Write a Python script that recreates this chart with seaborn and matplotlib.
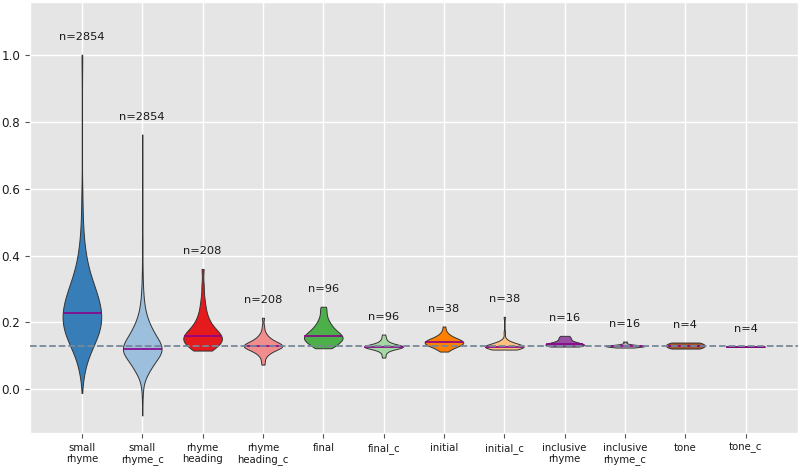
import numpy as np
import pandas as pd
import matplotlib
matplotlib.use("Agg")
import matplotlib.pyplot as plt
import seaborn as sns

# ---------------- data ----------------
categories = ["small rhyme", "small rhyme_c", "rhyme heading", "rhyme heading_c",
              "final", "final_c", "initial", "initial_c",
              "inclusive rhyme", "inclusive rhyme_c", "tone", "tone_c"]
tick_labels = ["small\nrhyme", "small\nrhyme_c", "rhyme\nheading", "rhyme\nheading_c",
               "final", "final_c", "initial", "initial_c",
               "inclusive\nrhyme", "inclusive\nrhyme_c", "tone", "tone_c"]
n_obs = [2854, 2854, 208, 208, 96, 96, 38, 38, 16, 16, 4, 4]
baseline = 0.13

# the two large groups are given as binned values with counts (histogram)
small_rhyme_values = [-0.011, 0.009, 0.029, 0.049, 0.069, 0.089, 0.109, 0.129, 0.149,
                      0.169, 0.189, 0.209, 0.229, 0.249, 0.269, 0.289, 0.309, 0.329,
                      0.349, 0.369, 0.389, 0.409, 0.429, 0.449, 0.469, 0.489, 0.509,
                      0.529, 0.549, 0.569, 0.589, 0.609, 0.629, 0.649, 0.669, 0.689,
                      0.709, 0.729, 0.749, 0.769, 0.789, 0.809, 0.829, 0.849, 0.869,
                      0.889, 0.909, 0.929, 0.949, 0.969, 0.989, 1.0]
small_rhyme_counts = [2, 6, 15, 28, 45, 68, 100, 138, 178, 210, 232, 240, 240, 225, 205,
                      180, 152, 122, 96, 75, 58, 45, 34, 26, 20, 15, 12, 10, 8, 7, 6, 5,
                      2, 2, 2, 2, 2, 2, 2, 2, 2, 2, 2, 2, 2, 2, 2, 3, 3, 4, 4, 7]
small_rhyme_c_values = [-0.078, -0.058, -0.038, -0.018, 0.002, 0.022, 0.042, 0.062,
                        0.082, 0.102, 0.122, 0.142, 0.162, 0.182, 0.202, 0.222, 0.242,
                        0.262, 0.282, 0.302, 0.322, 0.342, 0.362, 0.382, 0.402, 0.422,
                        0.442, 0.462, 0.482, 0.502, 0.522, 0.542, 0.562, 0.582, 0.602,
                        0.622, 0.642, 0.662, 0.682, 0.702, 0.722, 0.742, 0.762]
small_rhyme_c_counts = [2, 4, 6, 9, 17, 35, 95, 190, 266, 406, 462, 390, 285, 209, 140,
                        91, 59, 39, 27, 18, 13, 10, 8, 5, 5, 7, 7, 5,
                        3, 3, 3, 3, 3, 3, 3, 3, 3, 3, 3, 3, 3, 3, 2]

rhyme_heading = [0.116, 0.118, 0.121, 0.124, 0.127, 0.13, 0.133, 0.135, 0.137, 0.139,
                 0.141, 0.143, 0.145, 0.147, 0.149, 0.151, 0.153, 0.155, 0.157, 0.159,
                 0.16, 0.162, 0.164, 0.166, 0.168, 0.171, 0.174, 0.177, 0.18, 0.184,
                 0.188, 0.193, 0.198, 0.204, 0.21, 0.218, 0.228, 0.24, 0.255, 0.275,
                 0.31, 0.36]
rhyme_heading_c = [0.074, 0.085, 0.097, 0.103, 0.107, 0.11, 0.113, 0.115, 0.117, 0.119,
                   0.121, 0.122, 0.123, 0.124, 0.125, 0.126, 0.127, 0.128, 0.129, 0.13,
                   0.13, 0.131, 0.132, 0.133, 0.134, 0.135, 0.136, 0.137, 0.138, 0.14,
                   0.141, 0.143, 0.145, 0.147, 0.149, 0.152, 0.155, 0.159, 0.164, 0.172,
                   0.188, 0.214]
final = [0.123, 0.125, 0.128, 0.131, 0.134, 0.137, 0.14, 0.142, 0.144, 0.146, 0.148,
         0.15, 0.152, 0.154, 0.156, 0.157, 0.158, 0.159, 0.161, 0.163, 0.165, 0.168,
         0.171, 0.174, 0.177, 0.18, 0.184, 0.188, 0.193, 0.198, 0.205, 0.213, 0.225,
         0.24, 0.247]
final_c = [0.095, 0.102, 0.11, 0.114, 0.117, 0.119, 0.121, 0.122, 0.123, 0.124, 0.125,
           0.1255, 0.126, 0.1265, 0.127, 0.1275, 0.128, 0.128, 0.1285, 0.129, 0.1295,
           0.13, 0.131, 0.132, 0.133, 0.134, 0.135, 0.137, 0.139, 0.142, 0.145, 0.15,
           0.157, 0.164]
initial = [0.113, 0.117, 0.12, 0.123, 0.125, 0.127, 0.128, 0.13, 0.131, 0.132, 0.133,
           0.134, 0.135, 0.136, 0.137, 0.138, 0.139, 0.14, 0.14, 0.141, 0.142, 0.143,
           0.144, 0.145, 0.146, 0.147, 0.148, 0.149, 0.15, 0.151, 0.153, 0.155, 0.157,
           0.16, 0.163, 0.167, 0.175, 0.188]
initial_c = [0.119, 0.12, 0.121, 0.122, 0.123, 0.123, 0.124, 0.124, 0.125, 0.125, 0.126,
             0.126, 0.126, 0.127, 0.127, 0.127, 0.128, 0.128, 0.128, 0.128, 0.129, 0.129,
             0.13, 0.13, 0.131, 0.131, 0.132, 0.133, 0.134, 0.135, 0.136, 0.137, 0.139,
             0.141, 0.144, 0.148, 0.17, 0.217]
inclusive_rhyme = [0.128, 0.129, 0.13, 0.131, 0.132, 0.133, 0.134, 0.135, 0.136, 0.137,
                   0.139, 0.142, 0.147, 0.152, 0.156, 0.16]
inclusive_rhyme_c = [0.125, 0.126, 0.127, 0.128, 0.128, 0.129, 0.129, 0.13, 0.13, 0.13,
                     0.131, 0.131, 0.132, 0.133, 0.136, 0.143]
tone = [0.122, 0.128, 0.134, 0.14]
tone_c = [0.127, 0.1275, 0.128, 0.1285]

small_rhyme = np.repeat(small_rhyme_values, small_rhyme_counts)
small_rhyme_c = np.repeat(small_rhyme_c_values, small_rhyme_c_counts)

samples = [small_rhyme, small_rhyme_c, rhyme_heading, rhyme_heading_c, final, final_c,
           initial, initial_c, inclusive_rhyme, inclusive_rhyme_c, tone, tone_c]

# ---------------- style ----------------
dark_colors = ["#377eb8", "#e41a1c", "#4daf4a", "#ff7f00", "#984ea3", "#a65628"]
def lighten(c, f=0.5):
    r, g, b = matplotlib.colors.to_rgb(c)
    return (r + (1 - r) * f, g + (1 - g) * f, b + (1 - b) * f)
colors = []
for c in dark_colors:
    colors += [c, lighten(c)]
bw_factors = [0.204, 0.204, 0.34, 0.34, 0.4, 0.4, 0.48, 0.48, 0.57, 0.57, 0.76, 0.76]

plt.style.use("ggplot")
plt.rcParams["font.family"] = ["DejaVu Sans"]

rows = []
for cat, vals in zip(categories, samples):
    for v in vals:
        rows.append((cat, float(v)))
df = pd.DataFrame(rows, columns=["category", "value"])

fig, ax = plt.subplots(figsize=(8, 4.69), dpi=100)
fig.subplots_adjust(left=0.0375, right=0.997, top=0.996, bottom=0.077)


def extent_at(poly, y):
    xs = []
    for path in poly.get_paths():
        v = path.vertices
        for (x0, y0), (x1, y1) in zip(v[:-1], v[1:]):
            if y0 != y1 and (y0 - y) * (y1 - y) <= 0:
                xs.append(x0 + (y - y0) * (x1 - x0) / (y1 - y0))
    return min(xs), max(xs)


for i, cat in enumerate(categories):
    sub = df[df["category"] == cat]
    before = len(ax.collections)
    sns.violinplot(data=sub, x="category", y="value", order=categories,
                   color=colors[i], saturation=1, cut=0, inner=None,
                   density_norm="width", width=0.64, bw_method=bw_factors[i],
                   linewidth=0.7, linecolor="#333333", ax=ax)
    poly = ax.collections[before]
    med = float(np.median(samples[i]))
    x0, x1 = extent_at(poly, med)
    ax.plot([x0, x1], [med, med], color="#8b008b", lw=1.2, zorder=3,
            solid_capstyle="butt")
    ax.text(i, float(np.max(samples[i])) + 0.053, f"n={n_obs[i]}", ha="center",
            va="center", fontsize=8.2, color="#1a1a1a")

ax.axhline(baseline, color="#778899", ls="--", lw=1.3, zorder=4)

ax.set_xlim(-0.86, 11.86)
ax.set_ylim(-0.13, 1.158)
ax.set_yticks([0.0, 0.2, 0.4, 0.6, 0.8, 1.0])
ax.set_xticks(range(len(categories)))
ax.set_xticklabels(tick_labels, fontsize=7.3)
ax.tick_params(axis="y", labelsize=8.6)
ax.tick_params(labelcolor="#1a1a1a", color="#555555")
ax.set_xlabel("")
ax.set_ylabel("")
ax.xaxis.grid(True, color="white", lw=1)
ax.yaxis.grid(True, color="white", lw=1)
ax.set_axisbelow(True)

fig.savefig("out.png", dpi=100)
